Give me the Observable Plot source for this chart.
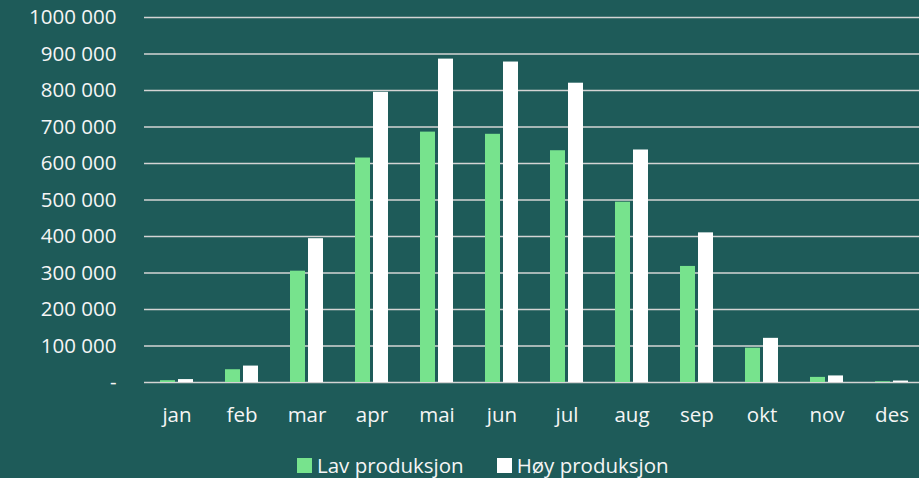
<!DOCTYPE html>
<html>
<head>
<meta charset="utf-8">
<script src="https://cdn.jsdelivr.net/npm/d3@7"></script>
<script src="https://cdn.jsdelivr.net/npm/@observablehq/plot@0.6"></script>
<style>
  html, body { margin: 0; padding: 0; background: #1e5b59; overflow: hidden; }
  body { width: 919px; height: 478px; position: relative; font-family: "Open Sans", sans-serif; }
  #legend { position: absolute; left: 297px; top: 452px; height: 27px; line-height: 27px; font-size: 20.5px; color: #f5f5f5; white-space: nowrap; }
  #legend .item { display: inline-block; }
  #legend .sw { display: inline-block; width: 15px; height: 15px; margin-right: 5px; }
</style>
</head>
<body>
<div id="chart"></div>
<div id="legend"></div>
<script>
const months = ["jan","feb","mar","apr","mai","jun","jul","aug","sep","okt","nov","des"];
const series = ["Lav produksjon","Høy produksjon"];
const lav = [5000, 35000, 305000, 615000, 686000, 680000, 635000, 494000, 318000, 94000, 14000, 2000];
const hoy = [8000, 45000, 394000, 795000, 886000, 878000, 820000, 637000, 410000, 121000, 18000, 4000];
const yTicks = [0, 100000, 200000, 300000, 400000, 500000, 600000, 700000, 800000, 900000, 1000000];
const colors = ["#77e38d", "#ffffff"];

const data = [];
months.forEach((m, i) => {
  data.push({month: m, series: series[0], value: lav[i]});
  data.push({month: m, series: series[1], value: hoy[i]});
});

const fmt = v => v === 0 ? "-" : `${Math.floor(v / 1000)} ${String(v % 1000).padStart(3, "0")}`;

const chart = Plot.plot({
  width: 919,
  height: 440,
  marginLeft: 141,
  marginRight: -9,
  marginTop: 17,
  marginBottom: 58,
  style: {background: "#1e5b59", color: "#f5f5f5", fontFamily: "Open Sans", fontSize: "20.5px", overflow: "visible"},
  fx: {domain: months, range: [140.5, 928], padding: 0, axis: "bottom", tickSize: 0, tickPadding: 25, label: null},
  x: {domain: series, axis: null, paddingInner: 0.19, paddingOuter: 0.865},
  y: {domain: [0, 1000000], ticks: yTicks, tickFormat: fmt, tickSize: 0, tickPadding: 28, label: null},
  color: {domain: series, range: colors},
  facet: {data: data, x: "month"},
  marks: [
    Plot.ruleY(yTicks, {stroke: "#d4d4d4", strokeWidth: 1.5}),
    Plot.barY(data, {x: "series", y: "value", fill: "series"})
  ]
});
document.getElementById("chart").appendChild(chart);

const legend = document.getElementById("legend");
series.forEach((s, i) => {
  const item = document.createElement("span");
  item.className = "item";
  item.style.marginRight = i === 0 ? "33px" : "0";
  const sw = document.createElement("span");
  sw.className = "sw";
  sw.style.background = colors[i];
  item.appendChild(sw);
  item.appendChild(document.createTextNode(s));
  legend.appendChild(item);
});
</script>
</body>
</html>
